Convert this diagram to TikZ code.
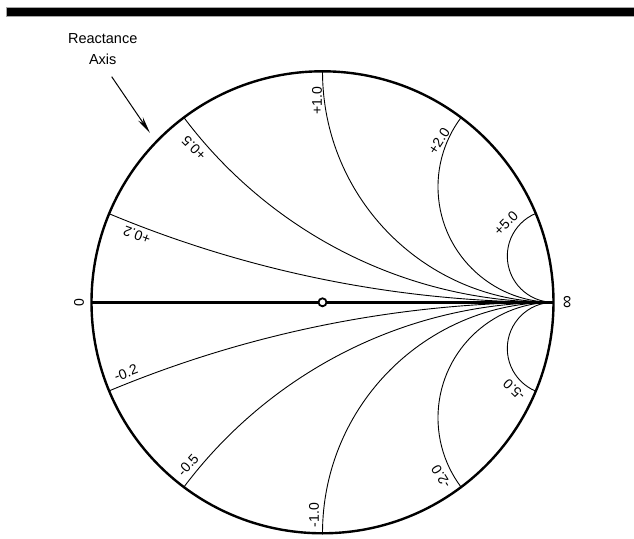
\documentclass[tikz,border=0pt]{standalone}
\usepackage{fontspec}
\setmainfont{Liberation Sans}
\usetikzlibrary{arrows.meta}
\tikzstyle{rim} = [line width=2.4pt]
\tikzstyle{reactance} = [line width=0.9pt]
\tikzstyle{rlabel} = [inner sep=0pt, font=\fontsize{14}{16}\selectfont]
\tikzstyle{pointer} = [line width=1pt, -{Stealth[length=17pt,width=6pt]}]

\begin{document}
\begin{tikzpicture}[x=1pt, y=1pt]
   \useasboundingbox (-322.5,-235.7) rectangle (311.5,302.3);
   \def\R{231}
   % heading bar
   \filldraw[fill=black, draw=gray!70, line width=0.6pt] (-316.5,286.3) rectangle (311.5,295.3);
   % reactance arcs
   \begin{scope}
      \clip (0,0) circle (\R);
      \foreach \x in {0.2,0.5,1,2,5}{
         \draw[reactance] (\R,\R/\x) circle (\R/\x);
         \draw[reactance] (\R,-\R/\x) circle (\R/\x);
      }
   \end{scope}
   \draw[rim] (0,0) circle (\R);
   \coordinate (zero) at (-\R,0);
   \coordinate (infty) at (\R,0);
   \draw[rim] (zero) -- (infty);
   \node (centre) [circle, draw, fill=white, line width=1.8pt, minimum size=8pt, inner sep=0pt] at (0,0) {};
   \node (lzero) [rlabel, rotate=90] at (-243.5,0) {0};
   \node (linfty) [rlabel, rotate=90, font=\fontsize{18}{20}\selectfont] at (245.5,0) {∞};
   % reactance values
   \node (xp10) [rlabel, rotate=90] at (-5.5,201.3) {+1.0};
   \node (xp05) [rlabel, rotate=135] at (-128.5,154.3) {+0.5};
   \node (xp02) [rlabel, rotate=160] at (-185.5,67.3) {+0.2};
   \node (xp20) [rlabel, rotate=57] at (116.5,161.3) {+2.0};
   \node (xp50) [rlabel, rotate=45] at (183.5,79.3) {+5.0};
   \node (xm02) [rlabel, rotate=21] at (-196.5,-70.7) {-0.2};
   \node (xm05) [rlabel, rotate=48] at (-134.5,-162.7) {-0.5};
   \node (xm10) [rlabel, rotate=90] at (-8.5,-212.7) {-1.0};
   \node (xm20) [rlabel, rotate=122] at (118.5,-174.7) {-2.0};
   \node (xm50) [rlabel, rotate=136] at (191.5,-87.7) {-5.0};
   % axis caption
   \node (axlabel) [rlabel, align=center, font=\fontsize{14.5}{21}\selectfont] at (-219.8,252.8) {Reactance\\Axis};
   \coordinate (tail) at (-210.8,225.6);
   \coordinate (tip) at (-172.5,169.3);
   \draw[pointer] (tail) -- (tip);
\end{tikzpicture}
\end{document}
